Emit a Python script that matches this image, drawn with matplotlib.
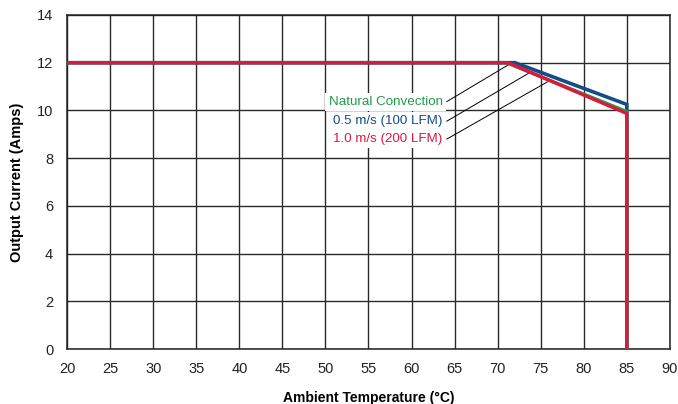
import matplotlib
matplotlib.use('Agg')
import matplotlib.pyplot as plt

plt.rcParams['font.family'] = ['Liberation Sans', 'DejaVu Sans']

# derating curves (ambient temp degC, output current A)
natural_t = [20, 71, 85, 85]
natural_i = [12, 12, 9.95, 0]
lfm100_t = [20, 72, 85, 85]
lfm100_i = [12, 12, 10.25, 0]
lfm200_t = [20, 71.2, 85, 85]
lfm200_i = [12, 12, 9.87, 0]

labels = ['Natural Convection', '0.5 m/s (100 LFM)', '1.0 m/s (200 LFM)']
label_y = [10.37, 9.55, 8.8]
leader_end = [(71.2, 11.9), (73.8, 11.6), (75.8, 11.2)]

GREEN = '#22994a'
BLUE = '#154c86'
RED = '#e0173a'

fig = plt.figure(figsize=(6.78, 4.04), dpi=100)
ax = fig.add_axes([0.099, 0.136, 0.889, 0.827])

ax.plot(lfm100_t, lfm100_i, color=BLUE, lw=2.6, zorder=3, solid_joinstyle='miter')
ax.plot(natural_t, natural_i, color=GREEN, lw=2.4, zorder=4, solid_joinstyle='miter')
ax.plot(lfm200_t, lfm200_i, color=RED, lw=2.4, zorder=5, solid_joinstyle='miter')

for txt, y, col, end in zip(labels, label_y, [GREEN, BLUE, RED], leader_end):
    ax.text(63.6, y, txt, color=col, fontsize=9.6, ha='right', va='center', zorder=6,
            bbox=dict(facecolor='white', edgecolor='none', pad=2.2))
    ax.plot([64.1, end[0]], [y, end[1]], color='black', lw=0.7, zorder=2)

ax.set_xlim(20, 90)
ax.set_ylim(0, 14)
ax.set_xticks(range(20, 91, 5))
ax.set_yticks(range(0, 15, 2))
ax.grid(True, color='#2a2a2a', lw=1.0)
ax.set_axisbelow(True)
ax.tick_params(length=0, labelsize=10.5, pad=9, colors='#222222')
ax.tick_params(axis='y', pad=10)
for s in ax.spines.values():
    s.set_color('#222222')
    s.set_linewidth(1.1)

ax.set_xlabel('Ambient Temperature (°C)', fontsize=10, fontweight='bold', labelpad=11)
ax.set_ylabel('Output Current (Amps)', fontsize=10.5, fontweight='bold', labelpad=9)

fig.savefig('out.png', dpi=100)
